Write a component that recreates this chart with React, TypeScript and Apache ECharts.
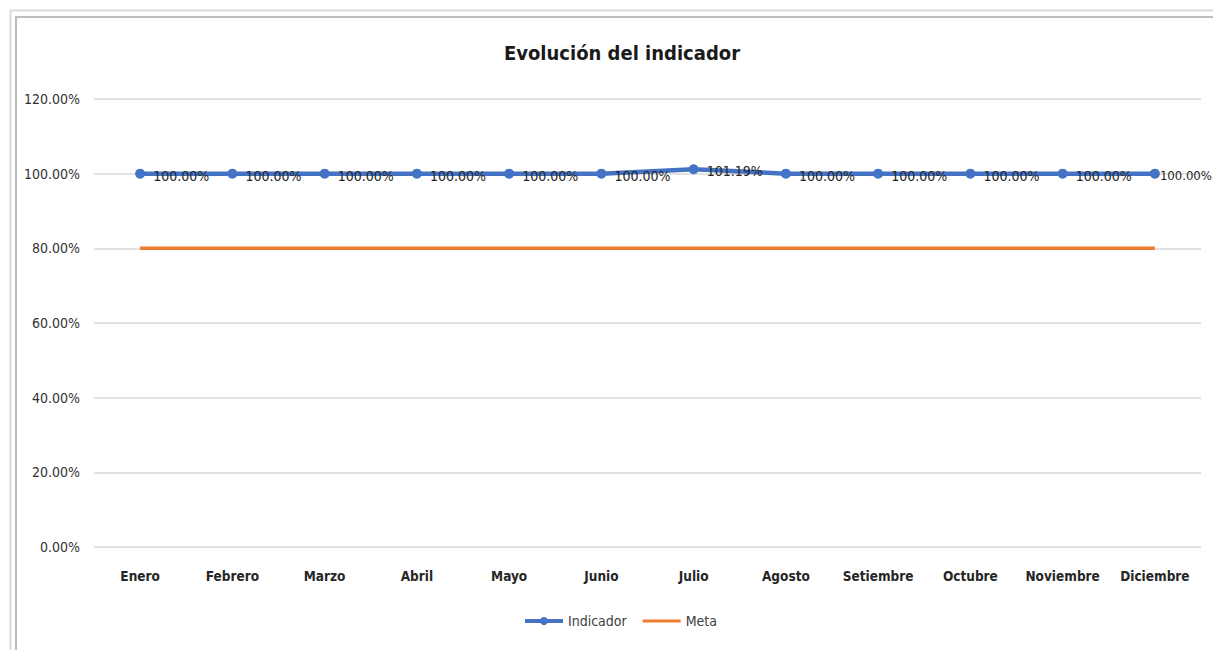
import React, { useEffect, useRef } from "react";
import * as echarts from "echarts";

const months = ["Enero", "Febrero", "Marzo", "Abril", "Mayo", "Junio", "Julio", "Agosto", "Setiembre", "Octubre", "Noviembre", "Diciembre"];
const indicador = [1.0, 1.0, 1.0, 1.0, 1.0, 1.0, 1.0119, 1.0, 1.0, 1.0, 1.0, 1.0];
const meta = [0.8, 0.8, 0.8, 0.8, 0.8, 0.8, 0.8, 0.8, 0.8, 0.8, 0.8, 0.8];

const FONT = "'Liberation Sans Narrow', 'DejaVu Sans Condensed', 'Roboto Condensed', sans-serif";
const META_ICON = "path://M0,0 L0,0 M0,10 L0,10 M0,3.3 L40,3.3 L40,6.7 L0,6.7 Z";

export default function App() {
  const ref = useRef<HTMLDivElement>(null);
  useEffect(() => {
    if (!ref.current) return;
    const chart = echarts.init(ref.current, null, { renderer: "svg" });
    const last = indicador.length - 1;
    chart.setOption({
      animation: false,
      backgroundColor: "#ffffff",
      textStyle: { fontFamily: FONT },
      title: {
        text: "Evolución del indicador",
        left: 617,
        textAlign: "center",
        top: 38,
        textStyle: { fontFamily: FONT, fontSize: 20, fontWeight: "bold", color: "#1a1a1a" },
      },
      graphic: [
        { type: "rect", shape: { x: 10.5, y: 10.5, width: 1205, height: 642 }, style: { fill: "none", stroke: "#d9d9d9", lineWidth: 2 }, silent: true },
        { type: "rect", shape: { x: 16, y: 17, width: 1200, height: 640 }, style: { fill: "none", stroke: "#bdbdbd", lineWidth: 2 }, silent: true },
      ],
      legend: {
        bottom: 17,
        left: 518,
        orient: "horizontal",
        itemWidth: 38,
        itemHeight: 10,
        itemGap: 16,
        textStyle: { fontFamily: FONT, fontSize: 14, color: "#404040" },
        data: [
          { name: "Indicador", lineStyle: { width: 4 } },
          { name: "Meta", icon: META_ICON, itemStyle: { color: "#ED7D31" } },
        ],
      },
      grid: { left: 94, right: 12, top: 99, bottom: 103, containLabel: false },
      xAxis: {
        type: "category",
        data: months,
        boundaryGap: true,
        axisLine: { show: false },
        axisTick: { show: false },
        axisLabel: { interval: 0, fontFamily: FONT, fontSize: 13.5, fontWeight: "bold", color: "#262626", margin: 22 },
      },
      yAxis: {
        type: "value",
        min: 0,
        max: 1.2,
        interval: 0.2,
        axisLine: { show: false },
        axisTick: { show: false },
        splitLine: { lineStyle: { color: "#d9d9d9", width: 1.5 } },
        axisLabel: {
          fontFamily: FONT,
          fontSize: 14,
          color: "#333333",
          margin: 14,
          formatter: (v: number) => (v * 100).toFixed(2) + "%",
        },
      },
      series: [
        {
          name: "Meta",
          type: "line",
          data: meta,
          symbol: "none",
          lineStyle: { color: "#ED7D31", width: 3.5 },
          itemStyle: { color: "#ED7D31" },
          z: 2,
        },
        {
          name: "Indicador",
          type: "line",
          data: indicador.map((v, i) =>
            i === last ? { value: v, label: { distance: 0, fontSize: 13 } } : v
          ),
          symbol: "circle",
          symbolSize: 10,
          lineStyle: { color: "#4472C4", width: 4.5 },
          itemStyle: { color: "#4472C4" },
          z: 3,
          label: {
            show: true,
            position: "right",
            distance: 8,
            offset: [0, 2],
            fontFamily: FONT,
            fontSize: 14,
            color: "#262626",
            formatter: (p: any) => (p.value * 100).toFixed(2) + "%",
          },
        },
      ],
    });
    return () => chart.dispose();
  }, []);
  return <div ref={ref} style={{ position: "fixed", left: 0, top: 0, width: 1213, height: 650 }} />;
}
